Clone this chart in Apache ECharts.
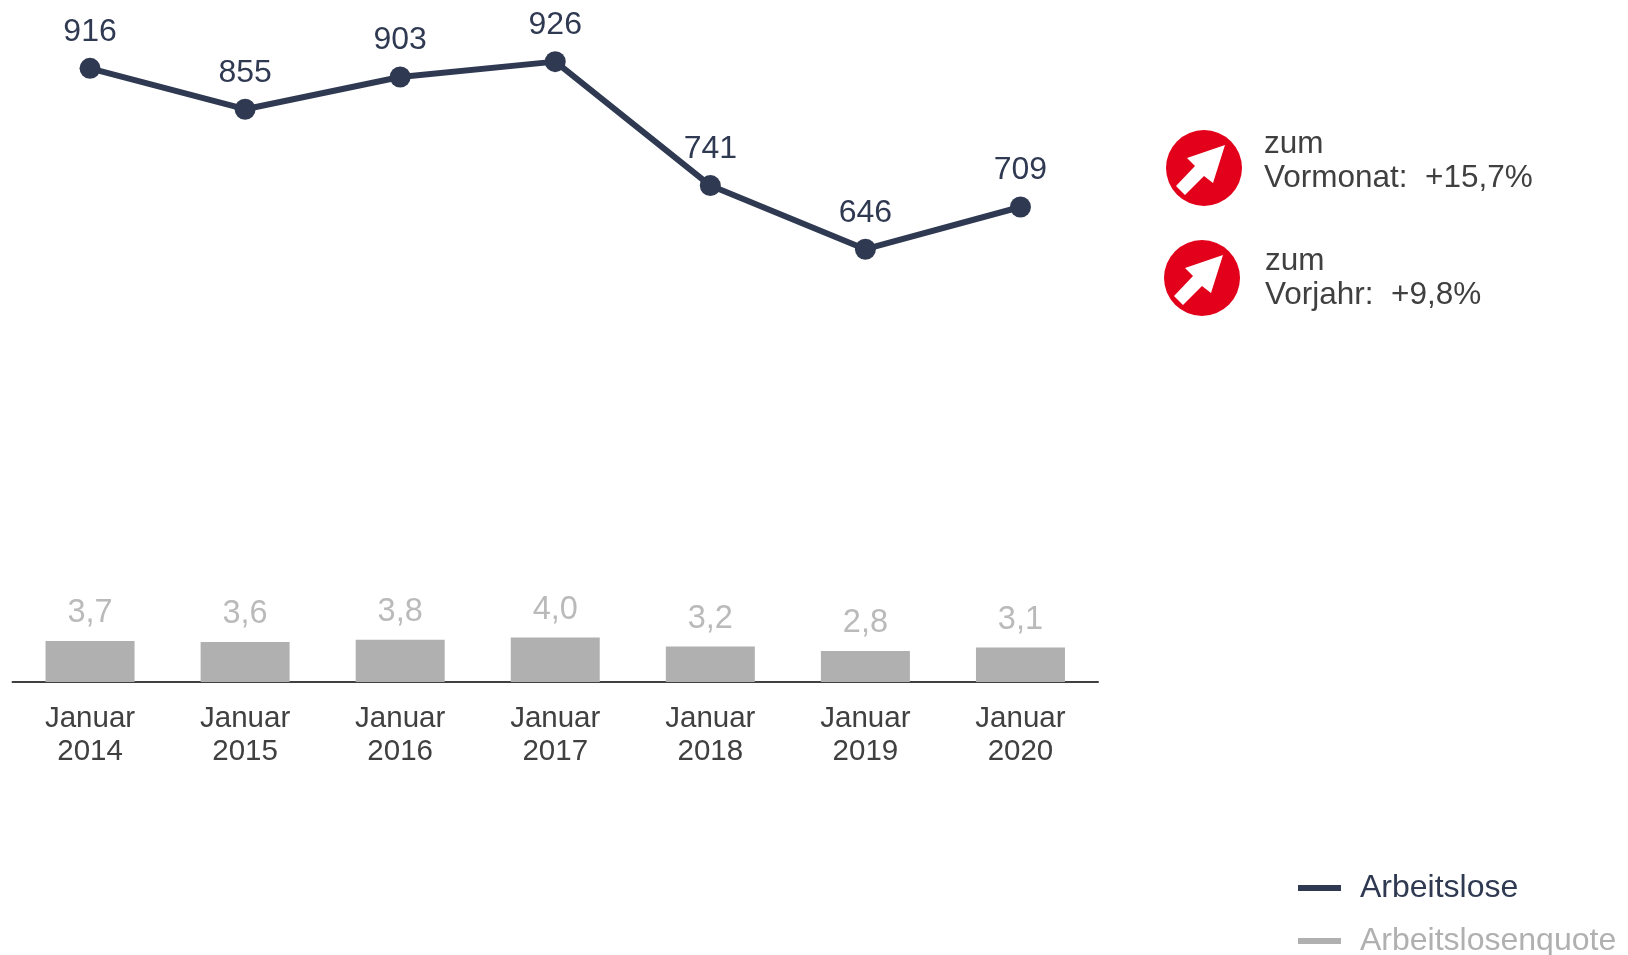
<!DOCTYPE html>
<html>
<head>
<meta charset="utf-8">
<title>Arbeitslose</title>
<script src="https://cdn.jsdelivr.net/npm/echarts@6/dist/echarts.min.js"></script>
<style>
  html, body { margin: 0; padding: 0; background: #fff; }
  #chart { width: 1628px; height: 955px; }
</style>
</head>
<body>
<div id="chart"></div>
<script>
var categories = ['Januar\n2014', 'Januar\n2015', 'Januar\n2016', 'Januar\n2017', 'Januar\n2018', 'Januar\n2019', 'Januar\n2020'];
var arbeitslose = [916, 855, 903, 926, 741, 646, 709];
var quote = [3.7, 3.6, 3.8, 4.0, 3.2, 2.8, 3.1];
var changes = [
  { x: 1204, y: 168, textX: 1264, textY: 161.5, label: 'zum\nVormonat:  +15,7%' },
  { x: 1202, y: 278, textX: 1265, textY: 278, label: 'zum\nVorjahr:  +9,8%' }
];

var dark = '#2f3a52';
var grey = '#b0b0b0';
var text = '#404040';
var font = '"Liberation Sans", Arial, sans-serif';

function addBadge(c) {
  return [
    {
      type: 'circle',
      shape: { cx: c.x, cy: c.y, r: 38 },
      style: { fill: '#e2001a' }
    },
    {
      type: 'polygon',
      x: c.x,
      y: c.y,
      shape: { points: [[21, -23], [-17, -10], [-9, -2], [-28, 18], [-19, 27], [0, 8], [9, 15]] },
      style: { fill: '#fff' }
    },
    {
      type: 'text',
      x: c.textX,
      y: c.textY,
      style: {
        text: c.label,
        fill: text,
        font: '31.5px ' + font,
        lineHeight: 34,
        verticalAlign: 'middle'
      }
    }
  ];
}

var option = {
  animation: false,
  backgroundColor: '#fff',
  textStyle: { fontFamily: font },
  grid: { left: 12.5, right: 530, top: 0, bottom: 273 },
  legend: {
    orient: 'vertical',
    left: 1293,
    top: 867,
    height: 150,
    itemWidth: 43,
    itemHeight: 6,
    itemGap: 21,
    icon: 'rect',
    data: [
      { name: 'Arbeitslose', textStyle: { color: dark } },
      { name: 'Arbeitslosenquote', textStyle: { color: grey } }
    ],
    textStyle: { fontSize: 32, padding: [0, 0, 0, 14] }
  },
  xAxis: {
    type: 'category',
    data: categories,
    axisTick: { show: false },
    axisLine: { lineStyle: { color: text, width: 2 } },
    axisLabel: { color: text, fontSize: 29.5, lineHeight: 33, margin: 20, interval: 0 }
  },
  yAxis: [
    { type: 'value', min: 0, max: 1018, show: false },
    { type: 'value', min: 0, max: 61.4, show: false }
  ],
  series: [
    {
      name: 'Arbeitslosenquote',
      type: 'bar',
      yAxisIndex: 1,
      data: quote,
      barWidth: 89,
      itemStyle: { color: grey },
      label: {
        show: true,
        position: 'top',
        distance: 11,
        color: '#bababa',
        fontSize: 32.5,
        formatter: function (p) { return p.value.toFixed(1).replace('.', ','); }
      }
    },
    {
      name: 'Arbeitslose',
      type: 'line',
      yAxisIndex: 0,
      data: arbeitslose,
      symbol: 'circle',
      symbolSize: 21,
      lineStyle: { color: dark, width: 6 },
      itemStyle: { color: dark },
      label: {
        show: true,
        position: 'top',
        distance: 10,
        color: dark,
        fontSize: 32
      }
    }
  ],
  graphic: { elements: changes.map(addBadge).reduce(function (a, b) { return a.concat(b); }, []) }
};

var myChart = echarts.init(document.getElementById('chart'));
myChart.setOption(option);
</script>
</body>
</html>
